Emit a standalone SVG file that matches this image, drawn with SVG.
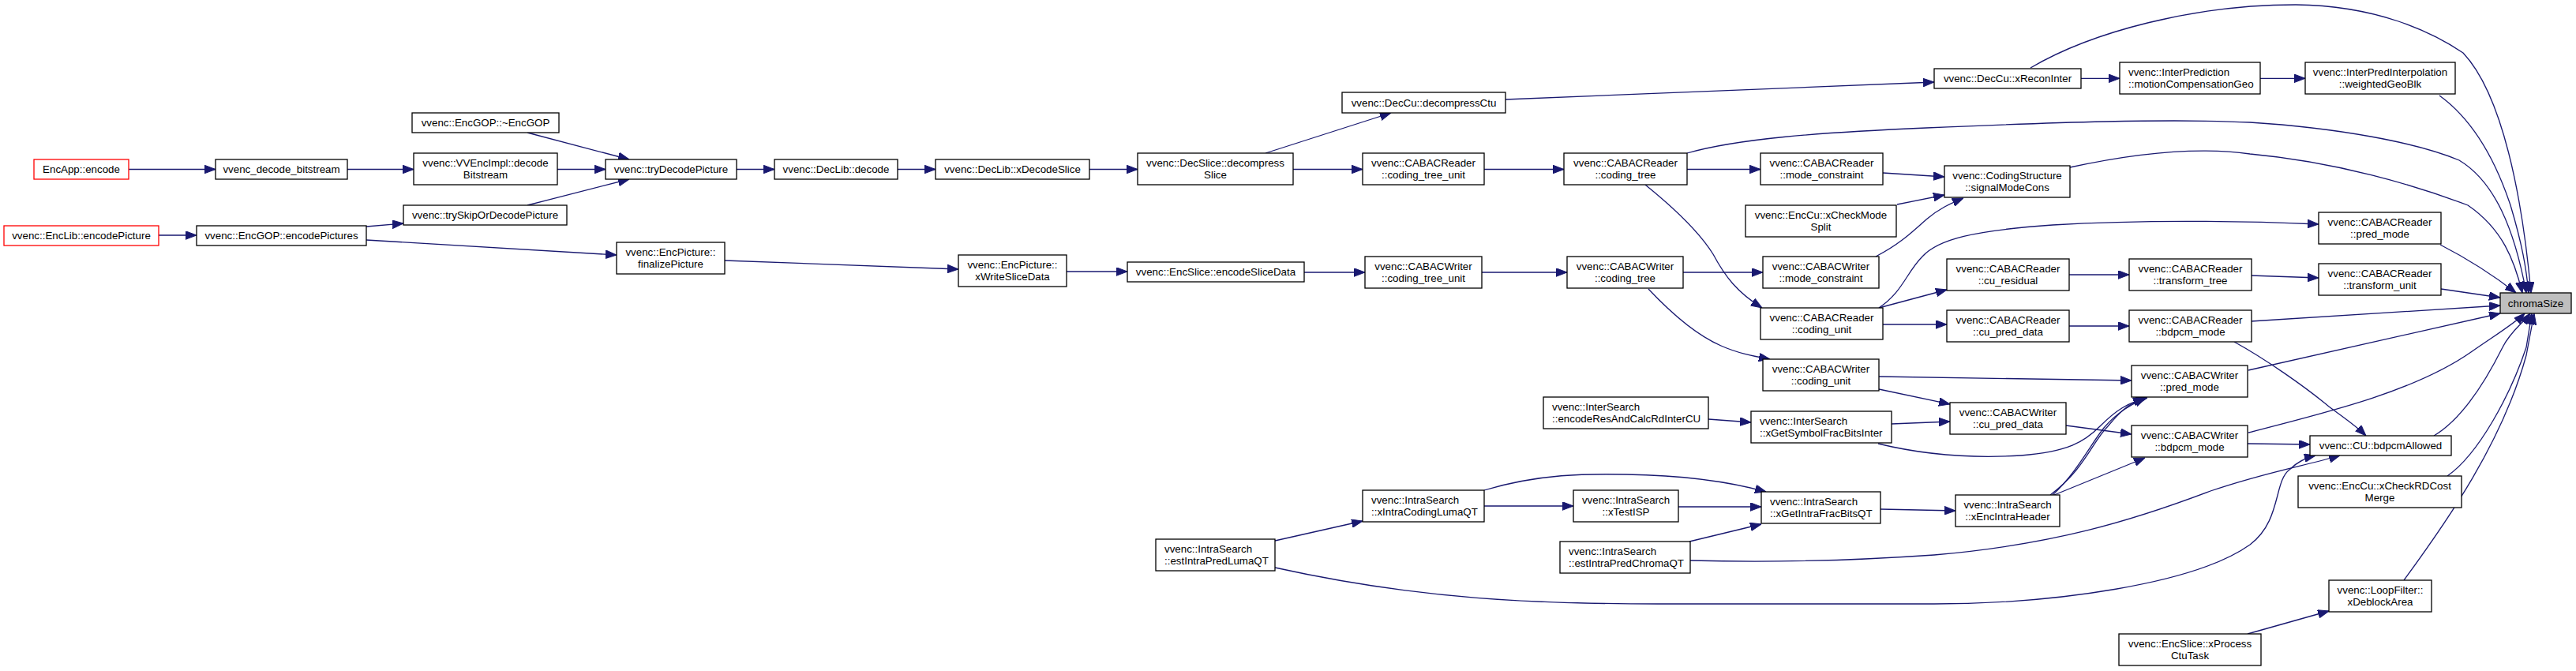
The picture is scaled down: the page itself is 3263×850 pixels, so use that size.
<svg xmlns="http://www.w3.org/2000/svg" width="3263" height="850" viewBox="0 0 3263 850">
<style>
rect{fill:#fff;stroke:#000;stroke-width:1.3}
.red{stroke:#ff0000}
.hl{fill:#bfbfbf}
text{font-family:"Liberation Sans",Arial,sans-serif;font-size:13.33px;fill:#000}
.c{text-anchor:middle}
#edges path{fill:none;stroke:#191970;stroke-width:1.3;marker-end:url(#ah)}
</style>
<defs>
<marker id="ah" markerUnits="userSpaceOnUse" markerWidth="14" markerHeight="11" refX="14" refY="5.3" orient="auto">
<path d="M0,0 L14,5.3 L0,10.6 z" fill="#191970" stroke="#191970" stroke-width="1"/>
</marker>
</defs>
<rect x="0" y="0" width="3263" height="850" style="fill:#fff;stroke:none"/>
<g id="edges">
<path d="M163,214.5 L273,214.5"/>
<path d="M440,214.5 L524,214.5"/>
<path d="M706,214.5 L767,214.5"/>
<path d="M668,168 L797,202"/>
<path d="M668,260 L797,227"/>
<path d="M201,298 L249,298"/>
<path d="M464,287 L511,283"/>
<path d="M464,304 L781,323"/>
<path d="M933,214.5 L981,214.5"/>
<path d="M1137,214.5 L1185,214.5"/>
<path d="M1380,214.5 L1441,214.5"/>
<path d="M918,330 L1214,341"/>
<path d="M1351,344 L1428,344"/>
<path d="M1603,194 L1762,143"/>
<path d="M1907,126 L2450,104"/>
<path d="M2636,99.3 L2685,99.3"/>
<path d="M2863,99.3 L2920,99.3"/>
<path d="M1638,214.5 L1726,214.5"/>
<path d="M1880,214.5 L1981,214.5"/>
<path d="M2137,214.5 L2230,214.5"/>
<path d="M2137,194 C2200,176 2300,168 2440,162 C2600,155 2750,150 2850,155 C2960,162 3060,180 3115,203 C3160,230 3185,290 3200,371"/>
<path d="M2385,219 L2463,224"/>
<path d="M2403,259 L2463,247"/>
<path d="M2376,325 C2405,310 2420,296 2440,278 C2455,265 2470,258 2487,251"/>
<path d="M2084,234 C2110,255 2150,290 2170,322 C2185,350 2200,370 2232,390"/>
<path d="M2380,390 C2410,370 2415,345 2435,325 C2455,303 2500,292 2600,285 C2720,278 2840,280 2937,284"/>
<path d="M2380,390 L2466,367"/>
<path d="M2385,411 L2466,411"/>
<path d="M2088,366 C2120,400 2150,425 2180,438 C2200,447 2220,451 2242,455"/>
<path d="M1877,345 L1985,345"/>
<path d="M2132,345 L2233,345"/>
<path d="M1652,345 L1729,345"/>
<path d="M2380,477 L2700,482"/>
<path d="M2380,493 L2470,512"/>
<path d="M2164,531 L2218,535"/>
<path d="M2396,537 L2470,534"/>
<path d="M2379,562 C2420,572 2480,582 2560,577 C2620,572 2640,560 2660,540 C2680,520 2695,510 2720,504"/>
<path d="M1880,641 L1993,641"/>
<path d="M1880,621 C1950,600 2010,600 2060,601 C2130,602 2190,610 2237,623"/>
<path d="M2126,642 L2231,642"/>
<path d="M2140,686 L2231,664"/>
<path d="M2141,710 C2250,713 2350,710 2450,703 C2600,690 2700,660 2800,622 C2870,598 2920,590 2964,577"/>
<path d="M1615,685 L1726,660"/>
<path d="M1615,719 C1800,760 1950,765 2100,765 L2450,765 C2600,765 2780,740 2850,690 C2890,660 2880,610 2900,595 C2910,585 2920,580 2933,577"/>
<path d="M2382,645 L2477,647"/>
<path d="M2597,627 C2640,595 2650,560 2670,540 C2685,522 2695,512 2716,504"/>
<path d="M2600,627 C2630,600 2650,560 2665,542 C2682,522 2700,512 2718,504"/>
<path d="M2602,627 L2717,580"/>
<path d="M2617,539 L2700,550"/>
<path d="M2847,562 L2926,563"/>
<path d="M2830,433 C2870,455 2920,490 2950,515 C2970,530 2985,540 2997,552"/>
<path d="M2621,413 L2697,413"/>
<path d="M2621,348 L2697,348"/>
<path d="M2851,349 L2937,352"/>
<path d="M3092,366 L3167,377"/>
<path d="M2851,407 L3167,387"/>
<path d="M2848,469 L3167,397"/>
<path d="M2848,548 C2950,522 3060,495 3130,446 C3160,425 3185,410 3198,397"/>
<path d="M3083,552 C3120,530 3150,480 3170,440 C3180,420 3195,410 3205,397"/>
<path d="M3100,603 C3140,575 3180,500 3200,440 L3207,397"/>
<path d="M3045,735 C3100,660 3170,560 3200,450 L3210,397"/>
<path d="M2847,803 L2950,774"/>
<path d="M2572,86 C2650,40 2780,6 2908,6 C3010,7 3080,40 3120,67 C3170,120 3195,250 3206,371"/>
<path d="M3090,121 C3130,150 3160,200 3180,260 C3195,310 3200,340 3203,371"/>
<path d="M2622,212 C2700,195 2780,185 2850,195 C2960,205 3060,235 3126,260 C3170,290 3185,330 3195,371"/>
<path d="M3091,310 C3130,330 3160,350 3187,371"/>
</g>
<g id="n_EncApp_encode"><rect class="red" x="43" y="202" width="120" height="25"/><text class="c" x="103" y="219.3">EncApp::encode</text></g>
<g id="n_vvenc_decode_bitstream"><rect x="273" y="202" width="167" height="25"/><text class="c" x="356.5" y="219.3">vvenc_decode_bitstream</text></g>
<g id="n_EncGOP_dtor"><rect x="522" y="143" width="186" height="25"/><text class="c" x="615" y="160.3">vvenc::EncGOP::~EncGOP</text></g>
<g id="n_VVEncImpl_decodeBitstream"><rect x="524" y="194" width="182" height="40"/><text class="c" x="615" y="210.7">vvenc::VVEncImpl::decode</text><text class="c" x="615" y="225.7">Bitstream</text></g>
<g id="n_trySkipOrDecodePicture"><rect x="511" y="260" width="207" height="25"/><text class="c" x="614.5" y="277.3">vvenc::trySkipOrDecodePicture</text></g>
<g id="n_EncLib_encodePicture"><rect class="red" x="5" y="286" width="196" height="25"/><text class="c" x="103" y="303.3">vvenc::EncLib::encodePicture</text></g>
<g id="n_EncGOP_encodePictures"><rect x="249" y="286" width="215" height="25"/><text class="c" x="356.5" y="303.3">vvenc::EncGOP::encodePictures</text></g>
<g id="n_tryDecodePicture"><rect x="767" y="202" width="166" height="25"/><text class="c" x="850" y="219.3">vvenc::tryDecodePicture</text></g>
<g id="n_finalizePicture"><rect x="781" y="307" width="137" height="40"/><text class="c" x="849.5" y="323.7">vvenc::EncPicture::</text><text class="c" x="849.5" y="338.7">finalizePicture</text></g>
<g id="n_DecLib_decode"><rect x="981" y="202" width="156" height="25"/><text class="c" x="1059" y="219.3">vvenc::DecLib::decode</text></g>
<g id="n_DecLib_xDecodeSlice"><rect x="1185" y="202" width="195" height="25"/><text class="c" x="1282.5" y="219.3">vvenc::DecLib::xDecodeSlice</text></g>
<g id="n_DecSlice_decompressSlice"><rect x="1441" y="194" width="197" height="40"/><text class="c" x="1539.5" y="210.7">vvenc::DecSlice::decompress</text><text class="c" x="1539.5" y="225.7">Slice</text></g>
<g id="n_xWriteSliceData"><rect x="1214" y="323" width="137" height="40"/><text class="c" x="1282.5" y="339.7">vvenc::EncPicture::</text><text class="c" x="1282.5" y="354.7">xWriteSliceData</text></g>
<g id="n_encodeSliceData"><rect x="1428" y="332" width="224" height="25"/><text class="c" x="1540" y="349.3">vvenc::EncSlice::encodeSliceData</text></g>
<g id="n_estIntraPredLumaQT"><rect x="1464" y="683" width="151" height="40"/><text x="1475" y="699.7">vvenc::IntraSearch</text><text x="1475" y="714.7">::estIntraPredLumaQT</text></g>
<g id="n_decompressCtu"><rect x="1700" y="117" width="207" height="26"/><text class="c" x="1803.5" y="134.5">vvenc::DecCu::decompressCtu</text></g>
<g id="n_CABACReader_coding_tree_unit"><rect x="1726" y="194" width="154" height="40"/><text class="c" x="1803" y="210.7">vvenc::CABACReader</text><text class="c" x="1803" y="225.7">::coding_tree_unit</text></g>
<g id="n_CABACWriter_coding_tree_unit"><rect x="1729" y="325" width="148" height="40"/><text class="c" x="1803" y="341.7">vvenc::CABACWriter</text><text class="c" x="1803" y="356.7">::coding_tree_unit</text></g>
<g id="n_xIntraCodingLumaQT"><rect x="1726" y="621" width="154" height="40"/><text x="1737" y="637.7">vvenc::IntraSearch</text><text x="1737" y="652.7">::xIntraCodingLumaQT</text></g>
<g id="n_CABACReader_coding_tree"><rect x="1981" y="194" width="156" height="40"/><text class="c" x="2059" y="210.7">vvenc::CABACReader</text><text class="c" x="2059" y="225.7">::coding_tree</text></g>
<g id="n_CABACWriter_coding_tree"><rect x="1985" y="325" width="147" height="40"/><text class="c" x="2058.5" y="341.7">vvenc::CABACWriter</text><text class="c" x="2058.5" y="356.7">::coding_tree</text></g>
<g id="n_encodeResAndCalcRdInterCU"><rect x="1955" y="503" width="209" height="40"/><text x="1966" y="519.7">vvenc::InterSearch</text><text x="1966" y="534.7">::encodeResAndCalcRdInterCU</text></g>
<g id="n_xTestISP"><rect x="1993" y="621" width="133" height="40"/><text class="c" x="2059.5" y="637.7">vvenc::IntraSearch</text><text class="c" x="2059.5" y="652.7">::xTestISP</text></g>
<g id="n_estIntraPredChromaQT"><rect x="1976" y="686" width="165" height="40"/><text x="1987" y="702.7">vvenc::IntraSearch</text><text x="1987" y="717.7">::estIntraPredChromaQT</text></g>
<g id="n_CABACReader_mode_constraint"><rect x="2230" y="194" width="155" height="40"/><text class="c" x="2307.5" y="210.7">vvenc::CABACReader</text><text class="c" x="2307.5" y="225.7">::mode_constraint</text></g>
<g id="n_xCheckModeSplit"><rect x="2211" y="260" width="191" height="40"/><text class="c" x="2306.5" y="276.7">vvenc::EncCu::xCheckMode</text><text class="c" x="2306.5" y="291.7">Split</text></g>
<g id="n_CABACWriter_mode_constraint"><rect x="2233" y="325" width="147" height="40"/><text class="c" x="2306.5" y="341.7">vvenc::CABACWriter</text><text class="c" x="2306.5" y="356.7">::mode_constraint</text></g>
<g id="n_CABACReader_coding_unit"><rect x="2230" y="390" width="155" height="40"/><text class="c" x="2307.5" y="406.7">vvenc::CABACReader</text><text class="c" x="2307.5" y="421.7">::coding_unit</text></g>
<g id="n_CABACWriter_coding_unit"><rect x="2233" y="455" width="147" height="40"/><text class="c" x="2306.5" y="471.7">vvenc::CABACWriter</text><text class="c" x="2306.5" y="486.7">::coding_unit</text></g>
<g id="n_xGetSymbolFracBitsInter"><rect x="2218" y="521" width="178" height="40"/><text x="2229" y="537.7">vvenc::InterSearch</text><text x="2229" y="552.7">::xGetSymbolFracBitsInter</text></g>
<g id="n_xGetIntraFracBitsQT"><rect x="2231" y="623" width="151" height="40"/><text x="2242" y="639.7">vvenc::IntraSearch</text><text x="2242" y="654.7">::xGetIntraFracBitsQT</text></g>
<g id="n_xReconInter"><rect x="2450" y="87" width="186" height="25"/><text class="c" x="2543" y="104.3">vvenc::DecCu::xReconInter</text></g>
<g id="n_signalModeCons"><rect x="2463" y="210" width="159" height="40"/><text class="c" x="2542.5" y="226.7">vvenc::CodingStructure</text><text class="c" x="2542.5" y="241.7">::signalModeCons</text></g>
<g id="n_CABACReader_cu_residual"><rect x="2466" y="328" width="155" height="40"/><text class="c" x="2543.5" y="344.7">vvenc::CABACReader</text><text class="c" x="2543.5" y="359.7">::cu_residual</text></g>
<g id="n_CABACReader_cu_pred_data"><rect x="2466" y="393" width="155" height="40"/><text class="c" x="2543.5" y="409.7">vvenc::CABACReader</text><text class="c" x="2543.5" y="424.7">::cu_pred_data</text></g>
<g id="n_CABACWriter_cu_pred_data"><rect x="2470" y="510" width="147" height="40"/><text class="c" x="2543.5" y="526.7">vvenc::CABACWriter</text><text class="c" x="2543.5" y="541.7">::cu_pred_data</text></g>
<g id="n_xEncIntraHeader"><rect x="2477" y="627" width="132" height="40"/><text class="c" x="2543" y="643.7">vvenc::IntraSearch</text><text class="c" x="2543" y="658.7">::xEncIntraHeader</text></g>
<g id="n_motionCompensationGeo"><rect x="2685" y="79" width="178" height="40"/><text x="2696" y="95.7">vvenc::InterPrediction</text><text x="2696" y="110.7">::motionCompensationGeo</text></g>
<g id="n_CABACReader_transform_tree"><rect x="2697" y="328" width="155" height="40"/><text class="c" x="2774.5" y="344.7">vvenc::CABACReader</text><text class="c" x="2774.5" y="359.7">::transform_tree</text></g>
<g id="n_CABACReader_bdpcm_mode"><rect x="2697" y="393" width="155" height="40"/><text class="c" x="2774.5" y="409.7">vvenc::CABACReader</text><text class="c" x="2774.5" y="424.7">::bdpcm_mode</text></g>
<g id="n_CABACWriter_pred_mode"><rect x="2700" y="463" width="147" height="40"/><text class="c" x="2773.5" y="479.7">vvenc::CABACWriter</text><text class="c" x="2773.5" y="494.7">::pred_mode</text></g>
<g id="n_CABACWriter_bdpcm_mode"><rect x="2700" y="539" width="147" height="40"/><text class="c" x="2773.5" y="555.7">vvenc::CABACWriter</text><text class="c" x="2773.5" y="570.7">::bdpcm_mode</text></g>
<g id="n_xProcessCtuTask"><rect x="2684" y="803" width="180" height="40"/><text class="c" x="2774" y="819.7">vvenc::EncSlice::xProcess</text><text class="c" x="2774" y="834.7">CtuTask</text></g>
<g id="n_weightedGeoBlk"><rect x="2920" y="79" width="190" height="40"/><text class="c" x="3015" y="95.7">vvenc::InterPredInterpolation</text><text class="c" x="3015" y="110.7">::weightedGeoBlk</text></g>
<g id="n_CABACReader_pred_mode"><rect x="2937" y="269" width="155" height="40"/><text class="c" x="3014.5" y="285.7">vvenc::CABACReader</text><text class="c" x="3014.5" y="300.7">::pred_mode</text></g>
<g id="n_CABACReader_transform_unit"><rect x="2937" y="334" width="155" height="40"/><text class="c" x="3014.5" y="350.7">vvenc::CABACReader</text><text class="c" x="3014.5" y="365.7">::transform_unit</text></g>
<g id="n_bdpcmAllowed"><rect x="2926" y="552" width="179" height="25"/><text class="c" x="3015.5" y="569.3">vvenc::CU::bdpcmAllowed</text></g>
<g id="n_xCheckRDCostMerge"><rect x="2911" y="603" width="207" height="40"/><text class="c" x="3014.5" y="619.7">vvenc::EncCu::xCheckRDCost</text><text class="c" x="3014.5" y="634.7">Merge</text></g>
<g id="n_xDeblockArea"><rect x="2950" y="735" width="130" height="40"/><text class="c" x="3015" y="751.7">vvenc::LoopFilter::</text><text class="c" x="3015" y="766.7">xDeblockArea</text></g>
<g id="n_chromaSize"><rect class="hl" x="3167" y="371" width="90" height="26"/><text class="c" x="3212" y="388.5">chromaSize</text></g>
</svg>
